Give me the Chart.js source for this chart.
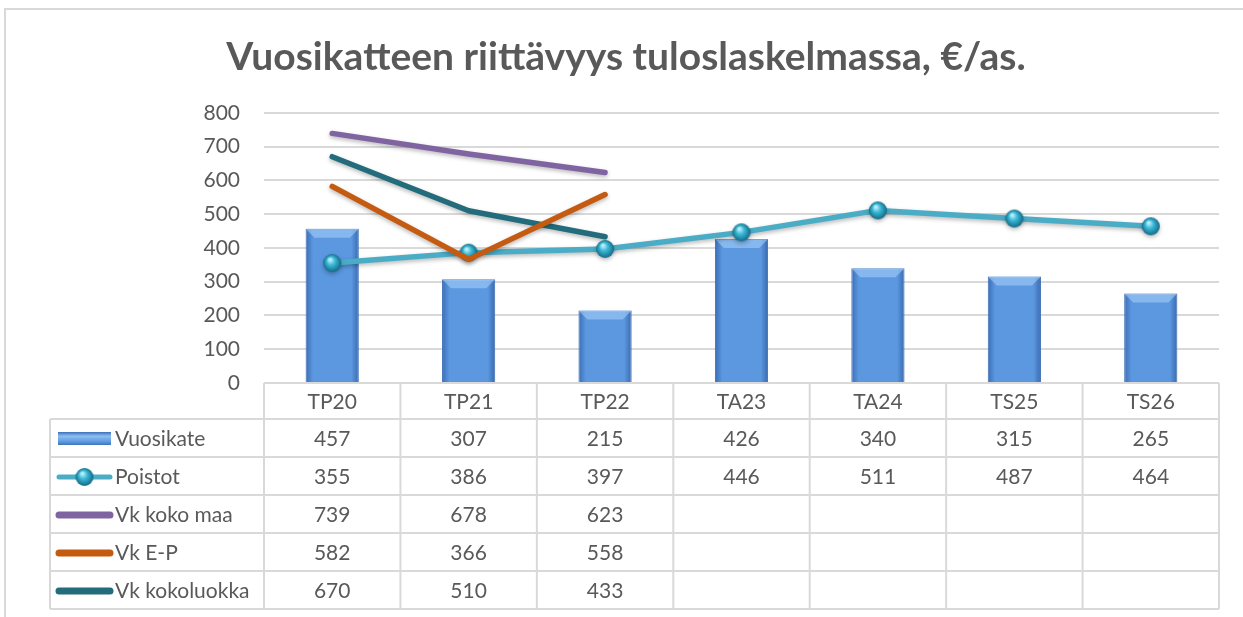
<!DOCTYPE html>
<html>
<head>
<meta charset="utf-8">
<script src="https://cdn.jsdelivr.net/npm/chart.js@4.4.1/dist/chart.umd.min.js"></script>
<style>
  html, body { margin: 0; background: #fff; }
  #wrap { width: 1243px; height: 617px; }
</style>
</head>
<body>
<div id="wrap"><canvas id="chart"></canvas></div>
<script>
// data
const labels       = ['TP20', 'TP21', 'TP22', 'TA23', 'TA24', 'TS25', 'TS26'];
const vuosikate    = [457, 307, 215, 426, 340, 315, 265];
const poistot      = [355, 386, 397, 446, 511, 487, 464];
const vkKokoMaa    = [739, 678, 623, null, null, null, null];
const vkEP         = [582, 366, 558, null, null, null, null];
const vkKokoluokka = [670, 510, 433, null, null, null, null];

const FONT   = "Lato, 'Open Sans', sans-serif";
const TEXT   = '#595959';
const LINE   = '#d9d9d9';
const HEAD_H = 36;
const ROW_H  = 38;
const TABLE_LEFT = 50;

// 3d-ish ball used as point marker for Poistot
function sphere(r) {
  const c = document.createElement('canvas');
  c.width = c.height = 2 * r + 2;
  const g = c.getContext('2d');
  const grad = g.createRadialGradient(r * 0.75 + 1, r * 0.6 + 1, 1, r + 1, r + 1, r);
  grad.addColorStop(0, '#b5f0fa');
  grad.addColorStop(0.4, '#3cb8d6');
  grad.addColorStop(1, '#116a87');
  g.fillStyle = grad;
  g.beginPath();
  g.arc(r + 1, r + 1, r, 0, Math.PI * 2);
  g.fill();
  return c;
}
const BALL = sphere(9);

function barFill(ctx) {
  const chart = ctx.chart, xs = chart.scales.x;
  if (!xs || !chart.chartArea) return '#5b98e0';
  const cx = xs.getPixelForValue(ctx.dataIndex);
  const w = (xs.right - xs.left) / labels.length * 0.39;
  const g = chart.ctx.createLinearGradient(cx - w / 2, 0, cx + w / 2, 0);
  g.addColorStop(0, '#3b6db6');
  g.addColorStop(0.14, '#5b98e0');
  g.addColorStop(0.86, '#5b98e0');
  g.addColorStop(1, '#3a69ae');
  return g;
}

// frame + white background
const framePlugin = {
  id: 'frame',
  beforeDraw(chart) {
    const ctx = chart.ctx;
    ctx.save();
    ctx.fillStyle = '#fff';
    ctx.fillRect(0, 0, chart.width, chart.height);
    ctx.strokeStyle = LINE;
    ctx.lineWidth = 2;
    ctx.beginPath();
    ctx.moveTo(5, chart.height);
    ctx.lineTo(5, 9);
    ctx.lineTo(chart.width, 9);
    ctx.stroke();
    ctx.restore();
  }
};

// bevel on bars, shadows on lines
const effectsPlugin = {
  id: 'effects',
  beforeDatasetDraw(chart, args) {
    if (args.meta.type !== 'line') return;
    const ctx = chart.ctx;
    ctx.save();
    ctx.shadowColor = 'rgba(0,0,0,0.28)';
    ctx.shadowBlur = 4;
    ctx.shadowOffsetY = 2;
  },
  afterDatasetDraw(chart, args) {
    const ctx = chart.ctx;
    if (args.meta.type === 'line') { ctx.restore(); return; }
    ctx.save();
    args.meta.data.forEach(el => {
      const l = el.x - el.width / 2, r = el.x + el.width / 2, t = el.y, b = 9;
      ctx.fillStyle = 'rgba(170,210,250,0.55)';
      ctx.beginPath();
      ctx.moveTo(l, t); ctx.lineTo(r, t); ctx.lineTo(r - b, t + b); ctx.lineTo(l + b, t + b);
      ctx.closePath();
      ctx.fill();
    });
    ctx.restore();
  }
};

// data table under the plot
const tablePlugin = {
  id: 'dataTable',
  afterDraw(chart) {
    const ctx = chart.ctx, xs = chart.scales.x, area = chart.chartArea;
    const n = labels.length;
    const colW = (xs.right - xs.left) / n;
    const top = area.bottom;
    const rowsTop = top + HEAD_H;
    const ds = chart.data.datasets;
    const bottom = rowsTop + ROW_H * ds.length;

    ctx.save();
    ctx.strokeStyle = LINE;
    ctx.lineWidth = 2;
    ctx.beginPath();
    // header row
    ctx.moveTo(xs.left, top); ctx.lineTo(xs.right, top);
    for (let i = 0; i <= n; i++) {
      const x = xs.left + i * colW;
      ctx.moveTo(x, top); ctx.lineTo(x, bottom);
    }
    for (let j = 0; j <= ds.length; j++) {
      const y = rowsTop + j * ROW_H;
      ctx.moveTo(TABLE_LEFT, y); ctx.lineTo(xs.right, y);
    }
    ctx.moveTo(TABLE_LEFT, rowsTop); ctx.lineTo(TABLE_LEFT, bottom);
    ctx.stroke();

    ctx.fillStyle = TEXT;
    ctx.font = '21px ' + FONT;
    ctx.textAlign = 'center';
    ctx.textBaseline = 'middle';
    labels.forEach((lab, i) => ctx.fillText(lab, xs.getPixelForValue(i), top + HEAD_H / 2 + 1));

    ds.forEach((d, j) => {
      const cy = rowsTop + j * ROW_H + ROW_H / 2 + 1;
      ctx.textAlign = 'center';
      ctx.fillStyle = TEXT;
      d.data.forEach((v, i) => {
        if (v !== null) ctx.fillText(String(v), xs.getPixelForValue(i), cy);
      });
      // legend key
      const kx0 = 56, kx1 = 113;
      if (d.type === 'bar') {
        const g = ctx.createLinearGradient(0, cy - 7, 0, cy + 7);
        g.addColorStop(0, '#3d6fb8');
        g.addColorStop(0.3, '#8cc0f2');
        g.addColorStop(0.7, '#5b98e0');
        g.addColorStop(1, '#3a66a8');
        ctx.fillStyle = g;
        ctx.fillRect(kx0 + 2, cy - 7, kx1 - kx0 - 4, 13);
      } else {
        ctx.strokeStyle = d.borderColor;
        ctx.lineWidth = d.pointStyle ? 5 : 7;
        ctx.lineCap = 'round';
        ctx.beginPath();
        ctx.moveTo(kx0 + 3, cy); ctx.lineTo(kx1 - 3, cy);
        ctx.stroke();
        if (d.pointStyle) ctx.drawImage(BALL, (kx0 + kx1) / 2 - BALL.width / 2, cy - BALL.height / 2);
      }
      ctx.fillStyle = TEXT;
      ctx.textAlign = 'left';
      ctx.fillText(d.label, kx1 + 2, cy);
    });
    ctx.restore();
  }
};

const lineBase = {
  type: 'line',
  borderWidth: 5.5,
  borderCapStyle: 'round',
  borderJoinStyle: 'round',
  pointRadius: 0,
  tension: 0,
  spanGaps: false
};

new Chart(document.getElementById('chart'), {
  type: 'bar',
  data: {
    labels,
    datasets: [
      {
        type: 'bar', label: 'Vuosikate', data: vuosikate, order: 10,
        backgroundColor: barFill, borderColor: '#3a6cb5', borderWidth: 1,
        barPercentage: 0.39, categoryPercentage: 1
      },
      {
        ...lineBase, label: 'Poistot', data: poistot, order: 3,
        borderColor: '#4bacc6', pointStyle: BALL, pointRadius: 9
      },
      { ...lineBase, label: 'Vk koko maa', data: vkKokoMaa, order: 2, borderColor: '#8064a2' },
      { ...lineBase, label: 'Vk E-P', data: vkEP, order: 1, borderColor: '#c55a11' },
      { ...lineBase, label: 'Vk kokoluokka', data: vkKokoluokka, order: 4, borderColor: '#236c7c' }
    ]
  },
  options: {
    responsive: true,
    maintainAspectRatio: false,
    animation: false,
    layout: { padding: { left: 33, right: 24, top: 0, bottom: 234 } },
    plugins: {
      legend: { display: false },
      tooltip: { enabled: false },
      title: {
        display: true,
        text: 'Vuosikatteen riittävyys tuloslaskelmassa, €/as.',
        color: TEXT,
        font: { family: FONT, size: 39, weight: 'bold' },
        padding: { top: 34, bottom: 32 }
      }
    },
    scales: {
      x: { display: false },
      y: {
        min: 0, max: 800,
        afterFit: s => { s.width = 231; },
        border: { display: false },
        grid: { color: LINE, lineWidth: 2, drawTicks: false },
        ticks: { stepSize: 100, color: TEXT, padding: 24, font: { family: FONT, size: 21 } }
      }
    }
  },
  plugins: [framePlugin, effectsPlugin, tablePlugin]
});
</script>
</body>
</html>
